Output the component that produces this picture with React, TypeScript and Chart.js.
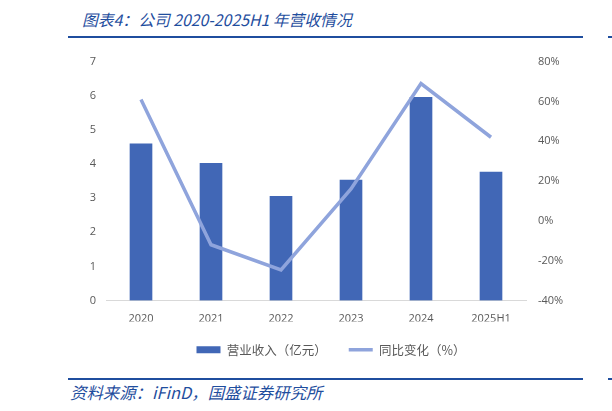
import { useEffect, useRef } from "react";
import { Chart, registerables } from "chart.js";

Chart.register(...registerables);

const years = ["2020", "2021", "2022", "2023", "2024", "2025H1"];
const revenue = [4.59, 4.02, 3.05, 3.53, 5.95, 3.76];
const yoy = [61, -12, -24.6, 16, 69, 42];

const BLUE_DARK = "#1f4e9e";
const BAR = "#4167b6";
const LINE = "#8fa4dc";
const TICK = "#595959";
const CJK = "'Noto Sans CJK SC', 'Open Sans', sans-serif";

// nudge the legend a little to the right, as in the original
const legendShift = {
  id: "legendShift",
  afterLayout(chart: any) {
    if (chart.legend) {
      chart.legend.left += 15;
      chart.legend.right += 15;
    }
  },
};

export default function App() {
  const canvasRef = useRef<HTMLCanvasElement>(null);

  useEffect(() => {
    const canvas = canvasRef.current;
    if (!canvas) return;

    const tickFont = { family: "'Open Sans', sans-serif", size: 11 };

    const chart = new Chart(canvas, {
      type: "bar",
      data: {
        labels: years,
        datasets: [
          {
            label: "营业收入（亿元）",
            data: revenue,
            backgroundColor: BAR,
            borderWidth: 0,
            barThickness: 22,
            yAxisID: "y",
            order: 2,
            pointStyle: "rect",
          },
          {
            label: "同比变化（%）",
            type: "line",
            data: yoy,
            borderColor: LINE,
            backgroundColor: LINE,
            borderWidth: 3.5,
            pointRadius: 0,
            tension: 0,
            yAxisID: "y1",
            order: 1,
            pointStyle: "line",
          },
        ],
      },
      options: {
        responsive: false,
        animation: false,
        layout: { padding: { top: 15, left: 0, right: 0, bottom: 0 } },
        plugins: {
          tooltip: { enabled: false },
          legend: {
            position: "bottom",
            fullSize: false,
            labels: {
              usePointStyle: true,
              pointStyleWidth: 24,
              boxHeight: 7,
              padding: 22,
              color: TICK,
              font: { family: CJK, size: 12.5 },
              sort: (a: any, b: any) => a.datasetIndex - b.datasetIndex,
            },
          },
        },
        scales: {
          x: {
            grid: { display: false, drawTicks: false },
            border: { display: true, color: "#d9d9d9", width: 1 },
            ticks: { color: TICK, font: tickFont, padding: 12 },
            afterFit: (s: any) => {
              s.height = 21;
            },
          },
          y: {
            position: "left",
            min: 0,
            max: 7,
            grid: { display: false, drawTicks: false },
            border: { display: false },
            ticks: { stepSize: 1, color: TICK, font: tickFont, padding: 10 },
            afterFit: (s: any) => {
              s.width = 106;
            },
          },
          y1: {
            position: "right",
            min: -40,
            max: 80,
            grid: { display: false, drawTicks: false },
            border: { display: false },
            ticks: {
              stepSize: 20,
              color: TICK,
              font: tickFont,
              padding: 12,
              callback: (v: any) => `${v}%`,
            },
            afterFit: (s: any) => {
              s.width = 86;
            },
          },
        },
      },
      plugins: [legendShift],
    });

    return () => chart.destroy();
  }, []);

  return (
    <div
      style={{
        position: "absolute",
        left: 0,
        top: 0,
        width: 612,
        height: 411,
        background: "#fff",
        overflow: "hidden",
      }}
    >
      <div
        style={{
          position: "absolute",
          left: 82,
          top: 8,
          fontFamily: CJK,
          fontStyle: "italic",
          fontSize: 15.8,
          color: BLUE_DARK,
          whiteSpace: "nowrap",
        }}
      >
        图表4：公司 2020-2025H1 年营收情况
      </div>
      <div style={{ position: "absolute", left: 68, top: 36, width: 515, height: 2, background: BLUE_DARK }} />
      <div style={{ position: "absolute", left: 608, top: 36, width: 4, height: 2, background: BLUE_DARK }} />
      <canvas
        ref={canvasRef}
        width={612}
        height={323}
        style={{ position: "absolute", left: 0, top: 43, width: 612, height: 323 }}
      />
      <div style={{ position: "absolute", left: 68, top: 378, width: 515, height: 2, background: BLUE_DARK }} />
      <div style={{ position: "absolute", left: 608, top: 378, width: 4, height: 2, background: BLUE_DARK }} />
      <div
        style={{
          position: "absolute",
          left: 70,
          top: 380,
          fontFamily: CJK,
          fontStyle: "italic",
          fontSize: 16.4,
          color: BLUE_DARK,
          whiteSpace: "nowrap",
        }}
      >
        资料来源：iFinD，国盛证券研究所
      </div>
    </div>
  );
}
